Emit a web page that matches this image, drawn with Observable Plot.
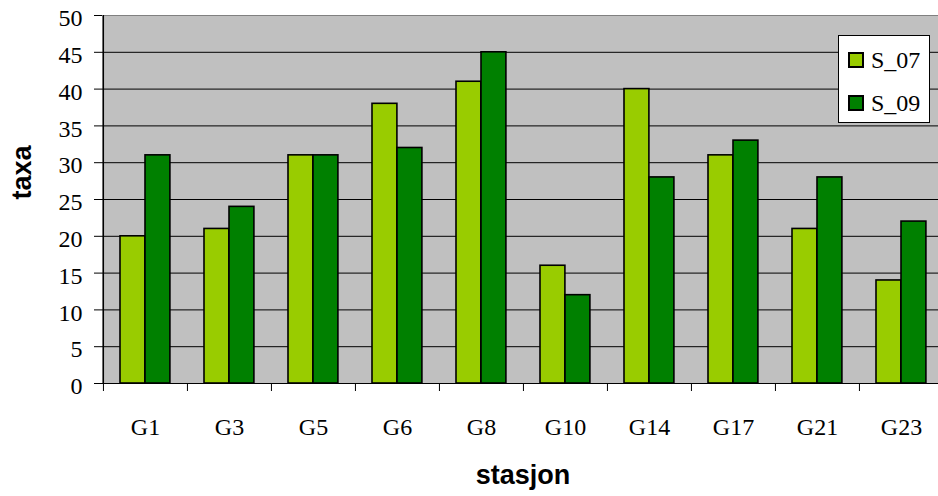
<!DOCTYPE html>
<html><head><meta charset="utf-8">
<script src="https://cdn.jsdelivr.net/npm/d3@7"></script>
<script src="https://cdn.jsdelivr.net/npm/@observablehq/plot@0.6"></script>
<style>
html,body{margin:0;padding:0;background:#fff;overflow:hidden}
#chart{position:relative;width:938px;height:496px;overflow:hidden}
#chart svg text{font-family:"Liberation Serif","Times New Roman","DejaVu Serif",serif}
#chart svg text.title{font-family:"Liberation Sans",Arial,"DejaVu Sans",sans-serif}
.legend{position:absolute;left:838px;top:35px;width:92px;height:88px;background:#fff;border:1px solid #000;box-sizing:border-box;font-family:"Liberation Serif","Times New Roman","DejaVu Serif",serif;font-size:24px;color:#000}
.item{position:absolute;left:9px;height:30px;display:flex;align-items:center;white-space:nowrap}
.sw{width:12px;height:12px;border:2px solid #000;margin-right:7px}
</style></head><body><div id="chart"></div>
<script>
const stations = ["G1","G3","G5","G6","G8","G10","G14","G17","G21","G23"];
const seriesNames = ["S_07","S_09"];
const s07 = [20,21,31,38,41,16,40,31,21,14];
const s09 = [31,24,31,32,45,12,28,33,28,22];
const yTicks = [0,5,10,15,20,25,30,35,40,45,50];
const colors = ["#99CC00","#008000"];
const xTitle = "stasjon";
const yTitle = "taxa";

const data = stations.flatMap((st, i) => [
  {station: st, series: seriesNames[0], value: s07[i]},
  {station: st, series: seriesNames[1], value: s09[i]}
]);

const W = 938, H = 496, mL = 102, mR = -5, mT = 15, mB = 113;
const bw = (W - mR - mL) / stations.length;
const barW = 25, side = 17;
const serif = "'Liberation Serif', 'Times New Roman', 'DejaVu Serif', serif";
const sans = "'Liberation Sans', Arial, 'DejaVu Sans', sans-serif";

const plot = Plot.plot({
  width: W, height: H,
  marginLeft: mL, marginRight: mR, marginTop: mT, marginBottom: mB,
  style: {fontFamily: serif, fontSize: "24px", color: "#000", background: "#fff", overflow: "hidden"},
  x: {domain: stations, padding: 0, label: null},
  y: {domain: [0, 50], label: null},
  marks: [
    Plot.frame({fill: "#C0C0C0", stroke: "#808080"}),
    Plot.ruleY(yTicks.filter(t => t > 0 && t < 50), {stroke: "#000", strokeWidth: 1}),
    Plot.barY(data.filter(d => d.series === seriesNames[0]), {x: "station", y: "value", fill: colors[0], stroke: "#000", strokeWidth: 1.6, insetLeft: side, insetRight: bw - side - barW}),
    Plot.barY(data.filter(d => d.series === seriesNames[1]), {x: "station", y: "value", fill: colors[1], stroke: "#000", strokeWidth: 1.6, insetLeft: side + barW, insetRight: bw - side - 2 * barW}),
    Plot.ruleY([0], {stroke: "#000", strokeWidth: 1.2}),
    Plot.ruleX([stations[0]], {dx: -bw / 2, stroke: "#000", strokeWidth: 1.2}),
    Plot.ruleX(stations, {x: d => d, dx: -bw / 2, y1: 0, y2: 0, insetBottom: -8, stroke: "#000"}),
    Plot.axisY({ticks: yTicks, tickSize: 8, tickFormat: () => "", stroke: "#000"}),
    Plot.axisY({ticks: yTicks, tickSize: 0, tickPadding: 20, dy: 3, fill: "#000", fontFamily: serif, fontSize: 24}),
    Plot.axisX({tickSize: 0, tickPadding: 34, fill: "#000", fontFamily: serif, fontSize: 24}),
    Plot.text([yTitle], {text: d => d, frameAnchor: "left", dx: -80, rotate: -90, fontFamily: sans, fontWeight: "bold", fontSize: 27, fill: "#000", className: "title"}),
    Plot.text([xTitle], {text: d => d, frameAnchor: "bottom", dy: 100, fontFamily: sans, fontWeight: "bold", fontSize: 27, fill: "#000", className: "title"})
  ]
});

const chart = document.getElementById("chart");
chart.appendChild(plot);
chart.querySelectorAll("svg text").forEach(t => {
  if (t.textContent === xTitle || t.textContent === yTitle) t.classList.add("title");
});

const legend = document.createElement("div");
legend.className = "legend";
seriesNames.forEach((name, i) => {
  const item = document.createElement("div");
  item.className = "item";
  item.style.top = (9 + i * 43.4) + "px";
  const sw = document.createElement("span");
  sw.className = "sw";
  sw.style.background = colors[i];
  const label = document.createElement("span");
  label.textContent = name;
  item.appendChild(sw);
  item.appendChild(label);
  legend.appendChild(item);
});
chart.appendChild(legend);
</script>
</body></html>
